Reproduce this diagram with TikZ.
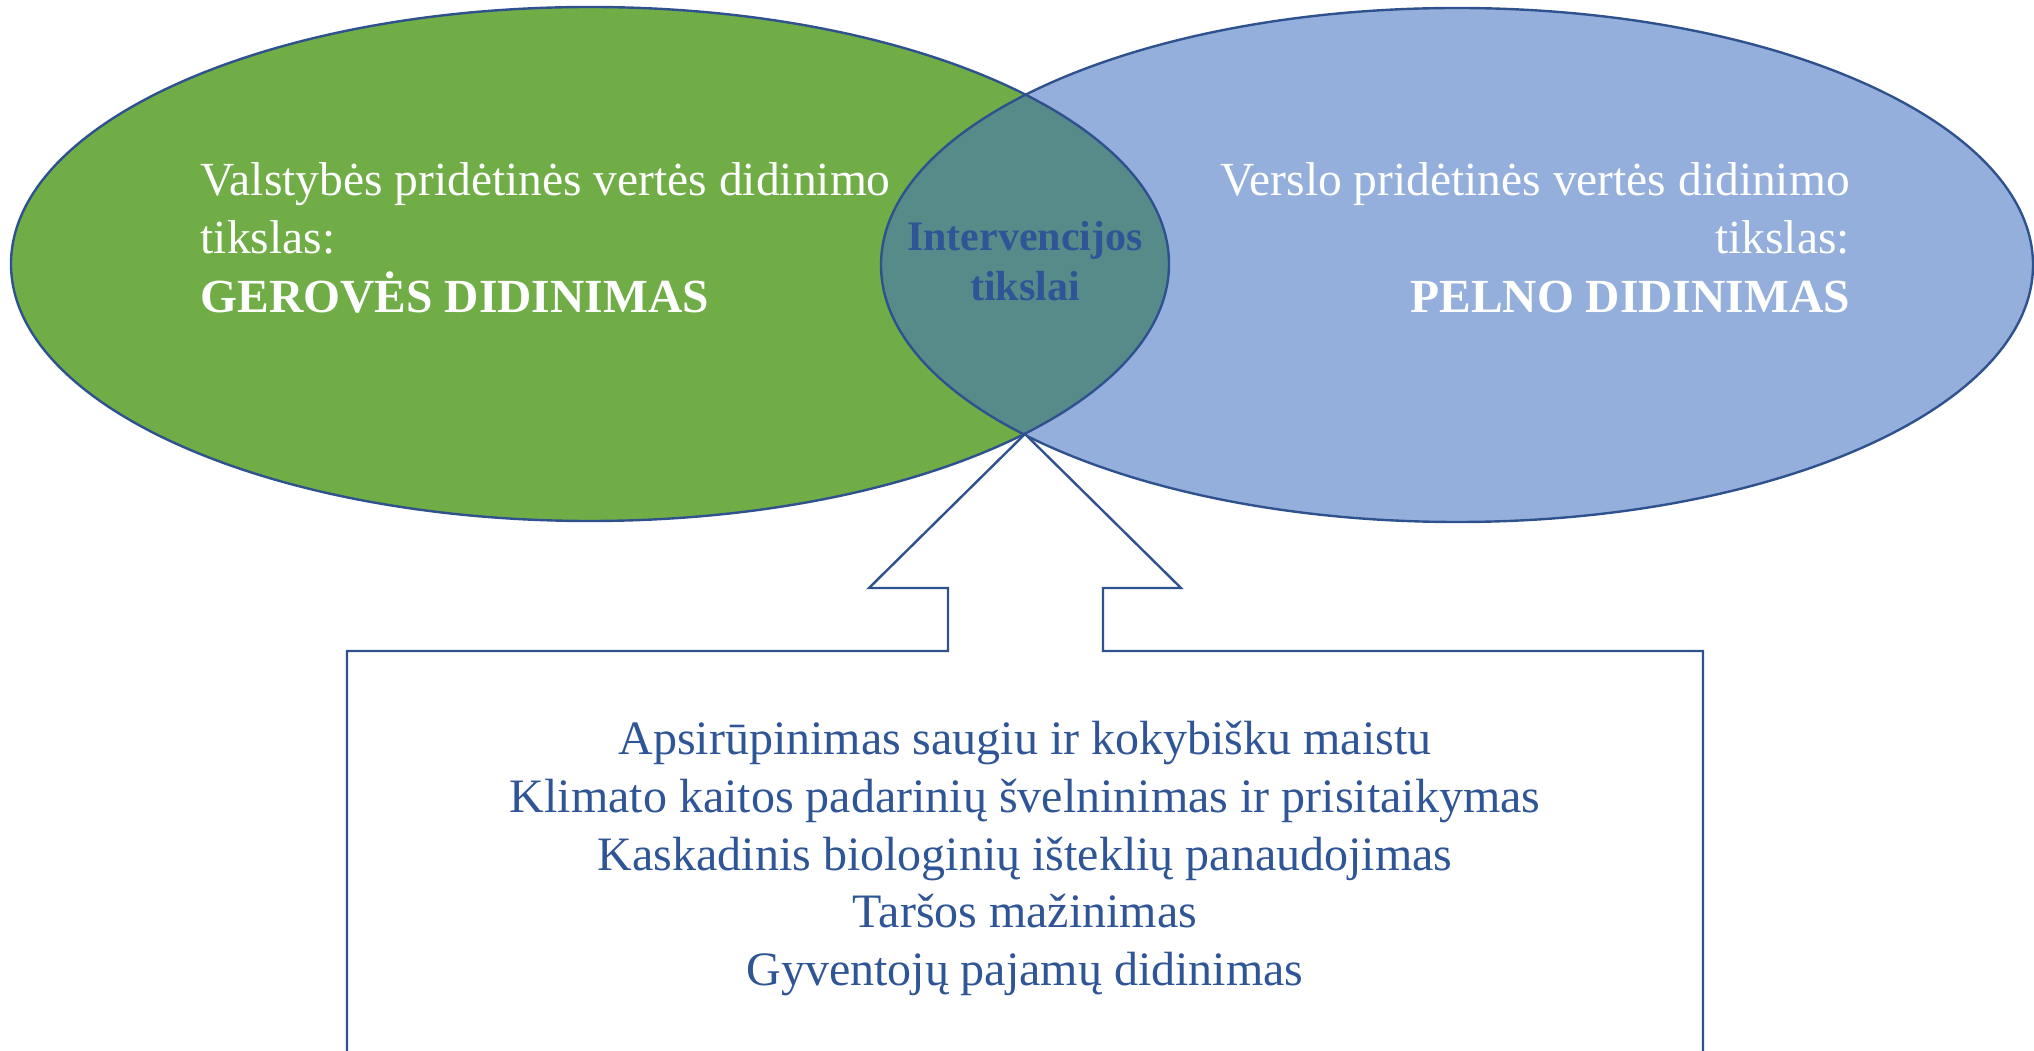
\documentclass[tikz,border=0pt]{standalone}
\usepackage{fontspec}
\setmainfont{Liberation Serif}
\usepackage{xcolor}
\usepackage{tikz}
\usetikzlibrary{shapes,positioning,calc}
\definecolor{greenset}{RGB}{112,173,71}
\definecolor{blueset}{RGB}{148,175,220}
\definecolor{lensfill}{RGB}{86,139,138}
\definecolor{outline}{RGB}{47,82,143}
\definecolor{textblue}{RGB}{47,85,151}

\begin{document}
\begin{tikzpicture}[
    x=1pt, y=1pt,
    setshape/.style={ellipse, inner sep=0pt, minimum height=514pt},
    border/.style={draw=outline, line width=2.4pt},
    whitetext/.style={text=white, inner sep=0pt, font=\fontsize{47.5}{58.5}\selectfont},
    goaltext/.style={text=textblue, inner sep=0pt, align=center, font=\fontsize{48}{57.75}\selectfont}
]
    \useasboundingbox (0,0) rectangle (2034,1050);

    % Sets
    \node[setshape, fill=greenset, minimum width=1158pt] (gerove) at (590,786) {};
    \node[setshape, fill=blueset, minimum width=1152pt] (pelnas) at (1457,785) {};

    % Overlap
    \begin{scope}
        \clip (gerove.center) ellipse [x radius=579, y radius=257];
        \fill[lensfill] (pelnas.center) ellipse [x radius=576, y radius=257];
    \end{scope}
    \draw[border] (gerove.center) ellipse [x radius=579, y radius=257];
    \draw[border] (pelnas.center) ellipse [x radius=576, y radius=257];

    % Set labels
    \node[whitetext, anchor=north west, align=left] (valstybe) at (200.5,888)
        {Valstybės pridėtinės vertės didinimo\\tikslas:\\\textbf{GEROVĖS DIDINIMAS}};
    \node[whitetext, anchor=north east, align=right] (verslas) at (1850,888)
        {Verslo pridėtinės vertės didinimo\\tikslas:\\\textbf{PELNO DIDINIMAS}};
    \node[text=textblue, inner sep=0pt, align=center, anchor=north,
        font=\bfseries\fontsize{42}{50}\selectfont] (intervencija) at (1025,829)
        {Intervencijos\\tikslai};

    % Callout
    \coordinate (apex) at (1025,616);
    \draw[border, fill=white] (347,-20) |- (948,399) |- (869,462) -- (apex)
        -- (1181,462) -| (1103,399) -| (1703,-20);

    % Goals
    \node[goaltext, anchor=north] (tikslai) at (1025,329)
        {Apsirūpinimas saugiu ir kokybišku maistu\\
         Klimato kaitos padarinių švelninimas ir prisitaikymas\\
         Kaskadinis biologinių išteklių panaudojimas\\
         Taršos mažinimas\\
         Gyventojų pajamų didinimas};
\end{tikzpicture}
\end{document}
